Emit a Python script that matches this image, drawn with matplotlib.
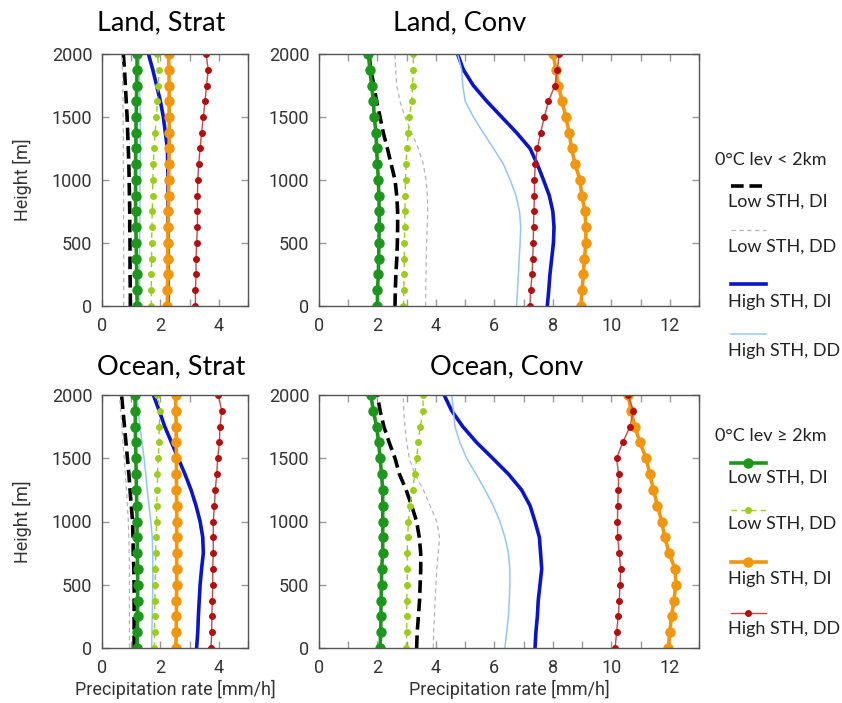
import numpy as np
import matplotlib
matplotlib.use('Agg')
import matplotlib.pyplot as plt
from matplotlib.lines import Line2D

# heights of the profile levels [m]
heights = np.arange(0, 2001, 125)

# 0C level < 2km (bottom -> top)
land_strat_low_di_lt2 = [0.97, 0.97, 0.96, 0.96, 0.96, 0.95, 0.95, 0.94, 0.93, 0.92, 0.90, 0.88, 0.86, 0.83, 0.80, 0.77, 0.73]
land_strat_low_dd_lt2 = [0.74, 0.74, 0.74, 0.74, 0.74, 0.74, 0.74, 0.74, 0.74, 0.73, 0.73, 0.73, 0.72, 0.72, 0.71, 0.70, 0.69]
land_strat_high_di_lt2 = [2.26, 2.26, 2.26, 2.26, 2.26, 2.26, 2.26, 2.26, 2.26, 2.25, 2.24, 2.17, 2.10, 2.00, 1.87, 1.74, 1.59]
land_strat_high_dd_lt2 = [1.29, 1.29, 1.29, 1.29, 1.29, 1.29, 1.30, 1.30, 1.30, 1.31, 1.31, 1.31, 1.31, 1.30, 1.29, 1.28, 1.26]

land_conv_low_di_lt2 = [2.60, 2.61, 2.63, 2.66, 2.68, 2.69, 2.69, 2.66, 2.60, 2.47, 2.34, 2.20, 2.09, 1.97, 1.88, 1.77, 1.71]
land_conv_low_dd_lt2 = [3.65, 3.65, 3.66, 3.67, 3.68, 3.70, 3.72, 3.71, 3.66, 3.57, 3.40, 3.17, 2.94, 2.77, 2.66, 2.62, 2.60]
land_conv_high_di_lt2 = [7.81, 7.86, 7.90, 7.96, 8.02, 8.04, 8.00, 7.88, 7.68, 7.47, 7.22, 6.76, 6.25, 5.74, 5.28, 4.94, 4.74]
land_conv_high_dd_lt2 = [6.76, 6.79, 6.82, 6.85, 6.88, 6.90, 6.86, 6.74, 6.54, 6.31, 5.97, 5.62, 5.28, 5.00, 4.92, 4.88, 4.74]

ocean_strat_low_di_lt2 = [1.10, 1.10, 1.10, 1.10, 1.10, 1.09, 1.07, 1.06, 1.05, 1.00, 0.96, 0.92, 0.87, 0.82, 0.77, 0.72, 0.67]
ocean_strat_low_dd_lt2 = [0.94, 0.94, 0.94, 0.94, 0.94, 0.94, 0.93, 0.92, 0.90, 0.87, 0.84, 0.80, 0.76, 0.72, 0.68, 0.64, 0.60]
ocean_strat_high_di_lt2 = [3.24, 3.28, 3.30, 3.33, 3.36, 3.41, 3.47, 3.45, 3.36, 3.22, 3.05, 2.84, 2.61, 2.38, 2.15, 1.96, 1.76]
ocean_strat_high_dd_lt2 = [1.70, 1.71, 1.72, 1.73, 1.74, 1.74, 1.74, 1.72, 1.67, 1.61, 1.55, 1.50, 1.44, 1.37, 1.30, 1.24, 1.19]

ocean_conv_low_di_lt2 = [3.34, 3.36, 3.40, 3.44, 3.46, 3.48, 3.48, 3.43, 3.34, 3.17, 2.98, 2.75, 2.60, 2.40, 2.22, 2.09, 2.00]
ocean_conv_low_dd_lt2 = [3.91, 3.92, 3.95, 3.97, 4.00, 4.03, 4.08, 4.12, 4.03, 3.80, 3.57, 3.28, 3.09, 3.00, 2.94, 2.90, 2.88]
ocean_conv_high_di_lt2 = [7.39, 7.42, 7.47, 7.50, 7.56, 7.62, 7.58, 7.54, 7.39, 7.22, 6.93, 6.48, 5.94, 5.39, 4.92, 4.54, 4.28]
ocean_conv_high_dd_lt2 = [6.36, 6.42, 6.48, 6.51, 6.53, 6.53, 6.48, 6.36, 6.19, 5.96, 5.68, 5.37, 5.05, 4.82, 4.65, 4.60, 4.54]

# 0C level >= 2km
land_strat_low_di_ge2 = [1.20, 1.20, 1.19, 1.18, 1.17, 1.16, 1.15, 1.15, 1.15, 1.15, 1.16, 1.16, 1.17, 1.18, 1.19, 1.20, 1.20]
land_strat_low_dd_ge2 = [1.69, 1.69, 1.69, 1.70, 1.70, 1.71, 1.72, 1.73, 1.74, 1.76, 1.78, 1.82, 1.86, 1.90, 1.93, 1.95, 1.90]
land_strat_high_di_ge2 = [2.24, 2.24, 2.25, 2.25, 2.25, 2.26, 2.27, 2.28, 2.28, 2.29, 2.30, 2.30, 2.30, 2.30, 2.30, 2.29, 2.28]
land_strat_high_dd_ge2 = [3.20, 3.20, 3.22, 3.22, 3.24, 3.27, 3.27, 3.27, 3.28, 3.31, 3.36, 3.41, 3.47, 3.53, 3.58, 3.64, 3.56]

land_conv_low_di_ge2 = [2.00, 2.00, 2.03, 2.04, 2.05, 2.06, 2.06, 2.05, 2.03, 2.00, 1.97, 1.95, 1.89, 1.86, 1.80, 1.74, 1.69]
land_conv_low_dd_ge2 = [2.89, 2.90, 2.91, 2.92, 2.92, 2.93, 2.94, 2.95, 2.96, 2.98, 3.00, 3.06, 3.09, 3.17, 3.20, 3.23, 3.23]
land_conv_high_di_ge2 = [8.96, 9.00, 9.04, 9.08, 9.13, 9.13, 9.10, 8.99, 8.93, 8.76, 8.64, 8.56, 8.44, 8.32, 8.19, 8.10, 8.02]
land_conv_high_dd_ge2 = [7.22, 7.24, 7.29, 7.31, 7.33, 7.34, 7.35, 7.37, 7.37, 7.40, 7.47, 7.58, 7.71, 7.85, 8.07, 8.15, 8.22]

ocean_strat_low_di_ge2 = [1.20, 1.21, 1.22, 1.22, 1.22, 1.22, 1.21, 1.20, 1.20, 1.19, 1.18, 1.17, 1.16, 1.15, 1.14, 1.14, 1.13]
ocean_strat_low_dd_ge2 = [1.79, 1.80, 1.80, 1.81, 1.82, 1.83, 1.84, 1.85, 1.87, 1.87, 1.90, 1.90, 1.93, 1.95, 1.96, 1.99, 1.90]
ocean_strat_high_di_ge2 = [2.53, 2.54, 2.55, 2.55, 2.56, 2.56, 2.56, 2.56, 2.56, 2.56, 2.55, 2.55, 2.55, 2.54, 2.54, 2.53, 2.52]
ocean_strat_high_dd_ge2 = [3.73, 3.76, 3.76, 3.78, 3.79, 3.79, 3.81, 3.81, 3.81, 3.85, 3.88, 3.93, 3.96, 4.02, 4.04, 4.10, 3.98]

ocean_conv_low_di_ge2 = [2.09, 2.11, 2.12, 2.12, 2.14, 2.14, 2.18, 2.18, 2.18, 2.18, 2.18, 2.14, 2.09, 2.04, 1.97, 1.86, 1.77]
ocean_conv_low_dd_ge2 = [2.98, 3.00, 3.00, 3.00, 3.02, 3.02, 3.02, 3.03, 3.06, 3.11, 3.20, 3.28, 3.34, 3.40, 3.46, 3.57, 3.55]
ocean_conv_high_di_ge2 = [11.95, 12.00, 12.06, 12.14, 12.21, 12.18, 11.98, 11.83, 11.72, 11.58, 11.44, 11.32, 11.19, 10.98, 10.81, 10.67, 10.58]
ocean_conv_high_dd_ge2 = [10.13, 10.18, 10.24, 10.27, 10.30, 10.32, 10.27, 10.22, 10.21, 10.22, 10.24, 10.25, 10.18, 10.39, 10.64, 10.75, 10.58]

panel_titles = ['Land, Strat', 'Land, Conv', 'Ocean, Strat', 'Ocean, Conv']
series_labels = ['Low STH, DI', 'Low STH, DD', 'High STH, DI', 'High STH, DD']
legend_titles = ['0\u00b0C lev < 2km', '0\u00b0C lev \u2265 2km']

# styles of the 8 series: first 4 for < 2km, last 4 for >= 2km
styles = [
    dict(color='black', lw=2.6, dashes=(3.5, 1.6)),
    dict(color='#b4b4b4', lw=0.9, dashes=(3.5, 2.8)),
    dict(color='#0a14c8', lw=2.6),
    dict(color='#94c6f4', lw=1.1),
    dict(color='#1e961e', lw=2.6, marker='o', ms=6.5),
    dict(color='#9ccc1c', lw=1.0, dashes=(4, 3), marker='o', ms=4),
    dict(color='#f0960f', lw=2.6, marker='o', ms=6.5),
    dict(color='#c84848', lw=1.0, marker='o', ms=4, mfc='#b01010', mec='#b01010'),
]

TEXT_FONT = ['Lato', 'DejaVu Sans']
plt.rcParams['font.family'] = ['Roboto', 'DejaVu Sans']

W, H = 842, 703
fig = plt.figure(figsize=(W / 100, H / 100), dpi=100)


def px_box(x0, y0, x1, y1):
    return [x0 / W, 1 - y1 / H, (x1 - x0) / W, (y1 - y0) / H]


boxes = [px_box(102, 54, 248, 306), px_box(319, 54, 699, 306),
         px_box(102, 395, 248, 648), px_box(319, 395, 699, 648)]
xmax = [5, 13, 5, 13]

panels = [
    [land_strat_low_di_lt2, land_strat_low_dd_lt2, land_strat_high_di_lt2, land_strat_high_dd_lt2,
     land_strat_low_di_ge2, land_strat_low_dd_ge2, land_strat_high_di_ge2, land_strat_high_dd_ge2],
    [land_conv_low_di_lt2, land_conv_low_dd_lt2, land_conv_high_di_lt2, land_conv_high_dd_lt2,
     land_conv_low_di_ge2, land_conv_low_dd_ge2, land_conv_high_di_ge2, land_conv_high_dd_ge2],
    [ocean_strat_low_di_lt2, ocean_strat_low_dd_lt2, ocean_strat_high_di_lt2, ocean_strat_high_dd_lt2,
     ocean_strat_low_di_ge2, ocean_strat_low_dd_ge2, ocean_strat_high_di_ge2, ocean_strat_high_dd_ge2],
    [ocean_conv_low_di_lt2, ocean_conv_low_dd_lt2, ocean_conv_high_di_lt2, ocean_conv_high_dd_lt2,
     ocean_conv_low_di_ge2, ocean_conv_low_dd_ge2, ocean_conv_high_di_ge2, ocean_conv_high_dd_ge2],
]

for i, (box, series) in enumerate(zip(boxes, panels)):
    ax = fig.add_axes(box)
    for vals, st in zip(series, styles):
        ax.plot(vals, heights, **st)
    ax.set_xlim(0, xmax[i])
    ax.set_ylim(0, 2000)
    ticks = list(range(0, xmax[i] + 1))
    ax.set_xticks(ticks)
    ax.set_xticklabels([str(t) if t % 2 == 0 else '' for t in ticks])
    ax.set_yticks([0, 500, 1000, 1500, 2000])
    ax.tick_params(direction='in', length=5, width=1, color='#999999',
                   top=True, right=True, labelsize=13, labelcolor='#333333')
    ax.tick_params(axis='x', pad=8)
    ax.tick_params(axis='y', pad=7)
    for sp in ax.spines.values():
        sp.set_color('#555555')
        sp.set_linewidth(1.0)
    if i % 2 == 0:
        ax.set_ylabel('Height [m]', fontsize=13, color='#333333', labelpad=14)
    if i >= 2:
        ax.set_xlabel('Precipitation rate [mm/h]', fontsize=13, color='#333333', labelpad=2)

# panel titles
title_pos = [(97, 23), (393, 23), (97, 367), (430, 367)]
for t, (x, y) in zip(panel_titles, title_pos):
    fig.text(x / W, 1 - y / H, t, family=TEXT_FONT, fontsize=19.5, ha='left', va='center')

# legend, drawn by hand: sample line above its label
leg_title_y = [160, 436]
sample_y = [[186, 230, 284, 334], [463, 510, 562, 613]]
label_y = [[202, 247, 302, 351], [478, 524, 579, 629]]
for g in range(2):
    fig.text(715 / W, 1 - leg_title_y[g] / H, legend_titles[g], family=TEXT_FONT,
             fontsize=13, ha='left', va='center', color='#222222')
    for k in range(4):
        st = dict(styles[g * 4 + k])
        yy = 1 - sample_y[g][k] / H
        ms = st.pop('marker', None)
        msize = st.pop('ms', None)
        mfc = st.pop('mfc', st['color'])
        mec = st.pop('mec', st['color'])
        fig.add_artist(Line2D([731 / W, 766 / W], [yy, yy], transform=fig.transFigure, **st))
        if ms:
            fig.add_artist(Line2D([748 / W], [yy], transform=fig.transFigure, lw=0,
                                  marker=ms, ms=msize, mfc=mfc, mec=mec))
        fig.text(728 / W, 1 - label_y[g][k] / H, series_labels[k], family=TEXT_FONT,
                 fontsize=13, ha='left', va='center', color='#222222')

fig.savefig('out.png', dpi=100)
